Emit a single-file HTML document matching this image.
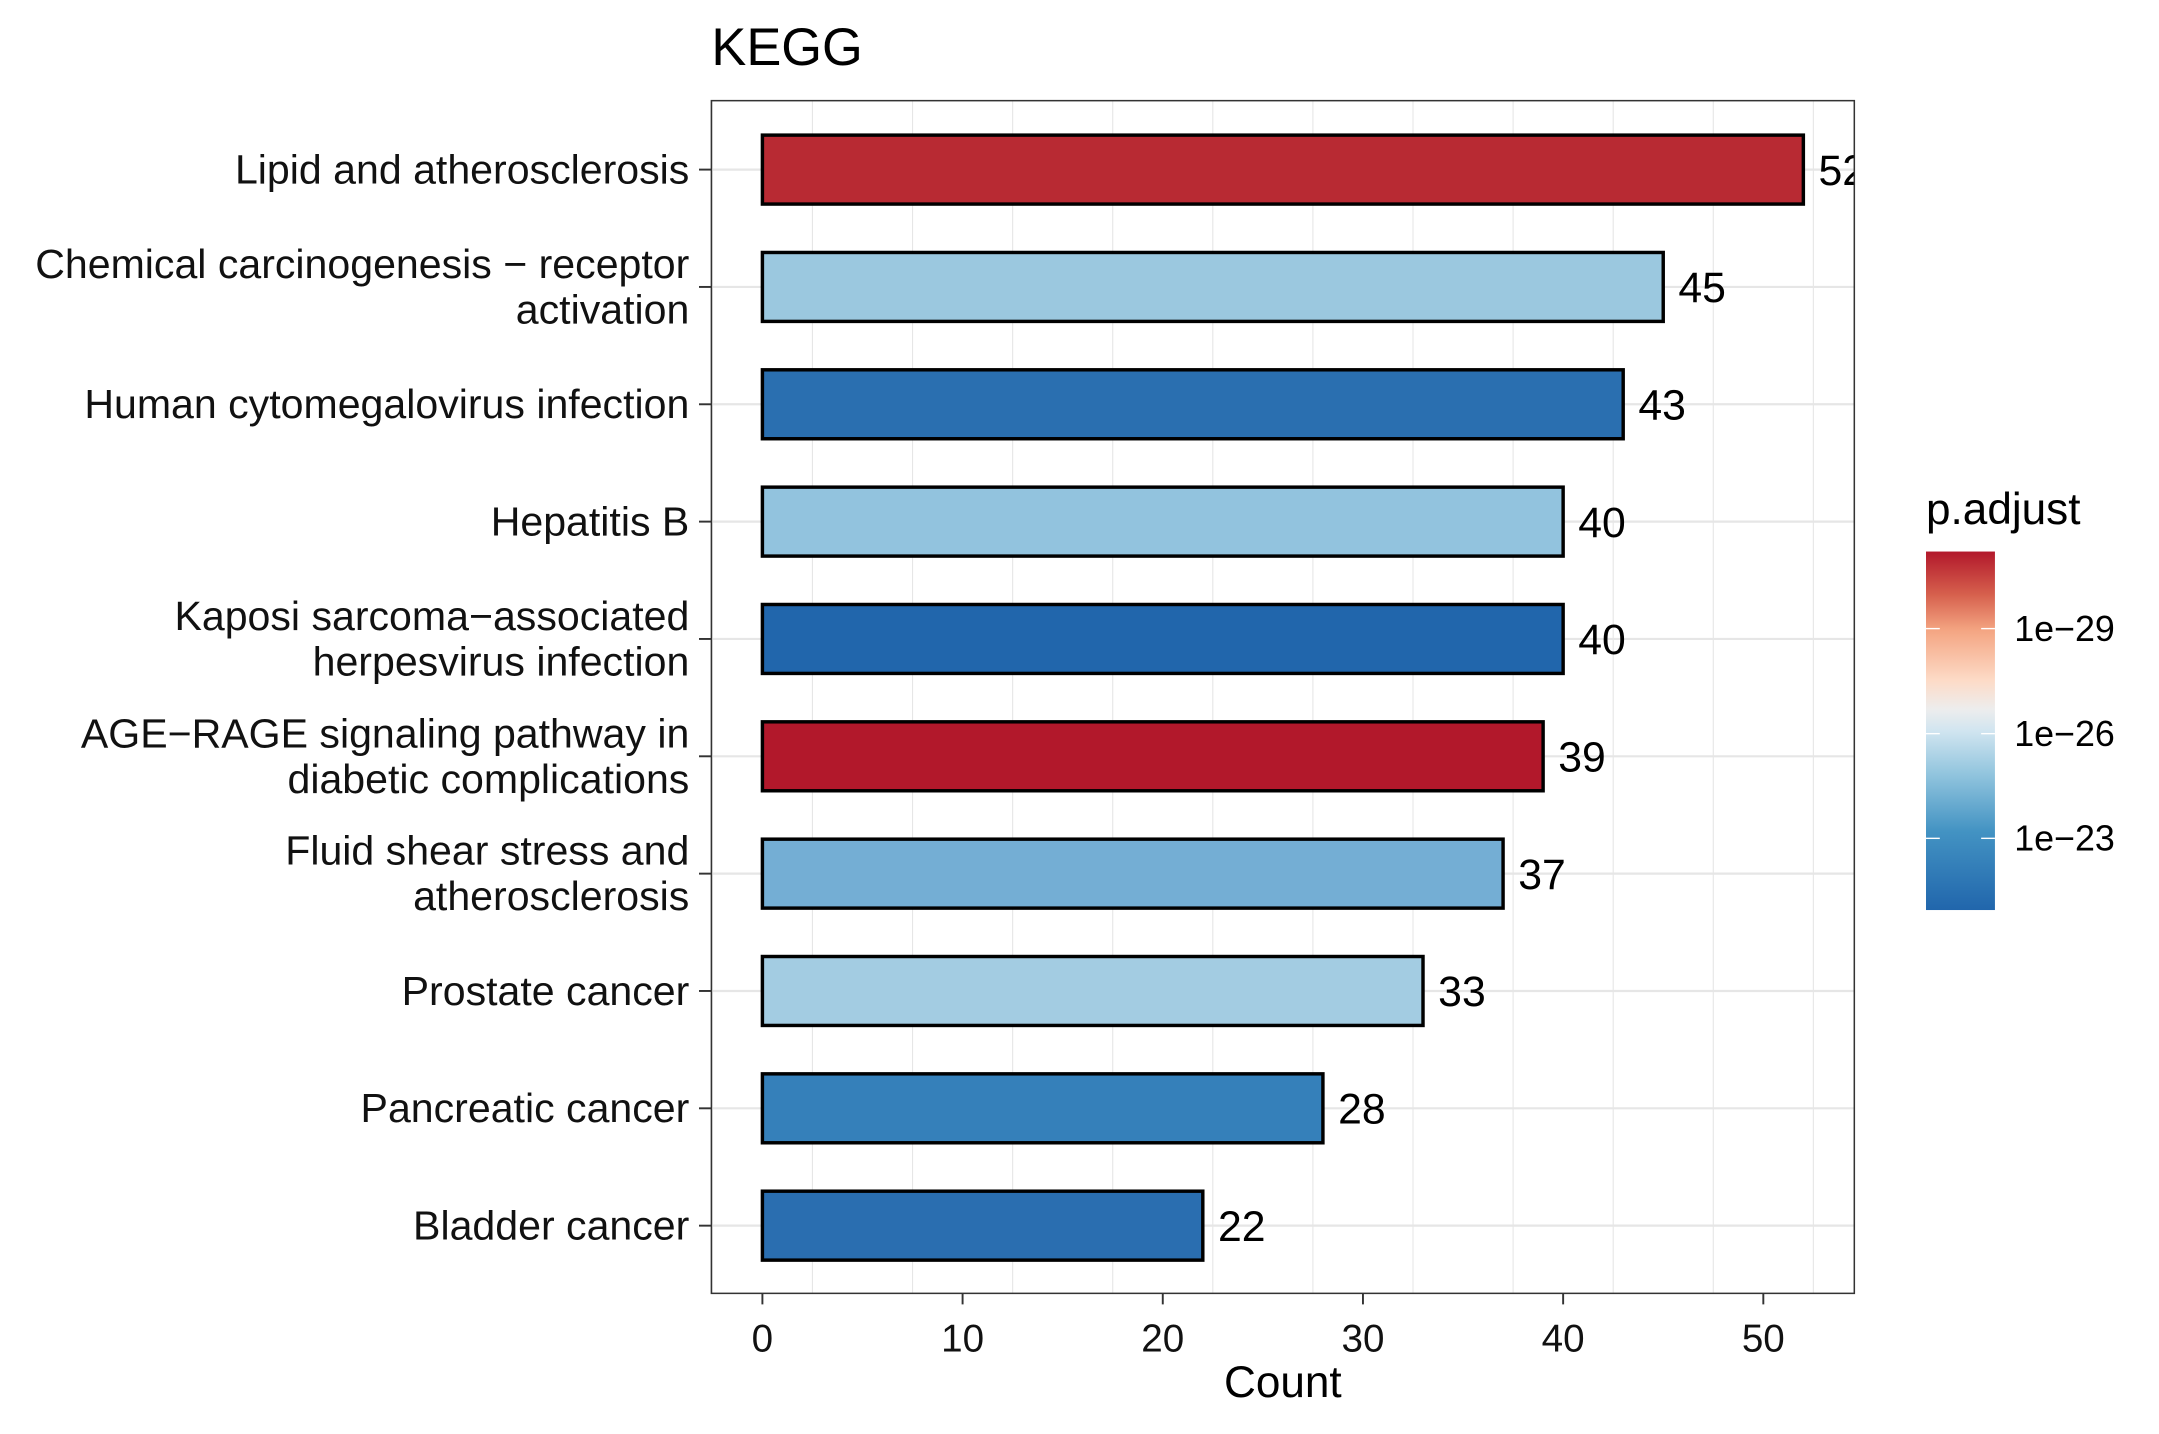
<!DOCTYPE html>
<html><head><meta charset="utf-8"><style>
html,body{margin:0;padding:0;background:#fff;}
svg{display:block;font-family:"Liberation Sans",Arial,sans-serif;}
</style></head><body>
<svg id="chart" width="2159" height="1434" viewBox="0 0 1566 1040" preserveAspectRatio="none" xmlns="http://www.w3.org/2000/svg">
<defs>
<linearGradient id="cbar" x1="0" y1="1" x2="0" y2="0">
<stop offset="0" stop-color="#2166AC"/>
<stop offset="0.22" stop-color="#4393C3"/>
<stop offset="0.38" stop-color="#92C5DE"/>
<stop offset="0.5" stop-color="#D1E5F0"/>
<stop offset="0.56" stop-color="#EDEDED"/>
<stop offset="0.64" stop-color="#FDDBC7"/>
<stop offset="0.78" stop-color="#F4A582"/>
<stop offset="0.88" stop-color="#D6604D"/>
<stop offset="1" stop-color="#B2182B"/>
</linearGradient>
<clipPath id="clipP"><rect x="0" y="0" width="1345" height="1040"/></clipPath>
</defs>
<text x="516" y="47" font-size="38">KEGG</text>
<rect x="516" y="73" width="829" height="865" fill="#fff"/>
<g id="grid"></g>
<g id="bars" clip-path="url(#clipP)"></g>
<rect x="516" y="73" width="829" height="865" fill="none" stroke="#333" stroke-width="1.1"/>
<g id="axes"></g>
<text x="930.5" y="1013" font-size="32" text-anchor="middle">Count</text>
<text x="1397" y="380" font-size="32">p.adjust</text>
<rect x="1397" y="400" width="50" height="260" fill="url(#cbar)"/>
<g id="legend"></g>
</svg>
<script>
const categories = ["Lipid and atherosclerosis","Chemical carcinogenesis \u2212 receptor|activation","Human cytomegalovirus infection","Hepatitis B","Kaposi sarcoma\u2212associated|herpesvirus infection","AGE\u2212RAGE signaling pathway in|diabetic complications","Fluid shear stress and|atherosclerosis","Prostate cancer","Pancreatic cancer","Bladder cancer"];
const counts = [52,45,43,40,40,39,37,33,28,22];
const barColors = ["#B82A33","#9BC8DF","#2A6FB0","#92C3DE","#2166AC","#B2182B","#74AED4","#A3CCE2","#3580BA","#2A6EB0"];
const xTicks = [0,10,20,30,40,50];
const legendTicks = ["1e\u221229","1e\u221226","1e\u221223"];
const legendTickPos = [0.215,0.508,0.8];

const NS="http://www.w3.org/2000/svg";
const X0=553, XU=(1279-553)/50;
const xs=v=>X0+v*XU;
const Y0=123, YS=85.1, BH=50;
const ys=i=>Y0+i*YS;
function mk(tag,attrs,parent){const e=document.createElementNS(NS,tag);for(const k in attrs)e.setAttribute(k,attrs[k]);parent.appendChild(e);return e;}
const grid=document.getElementById('grid'),bars=document.getElementById('bars'),axes=document.getElementById('axes'),legend=document.getElementById('legend');
for(let v=-2.5;v<=55;v+=5){const x=xs(v);if(x<516||x>1345)continue;
 const major=Math.abs(v%10)<1e-9;
 const l=mk('line',{x1:x,x2:x,y1:73,y2:938,stroke:'#e6e6e6','stroke-width':major?1.6:0.8},grid);
 
 }
categories.forEach((c,i)=>{const l=mk('line',{x1:516,x2:1345,y1:ys(i),y2:ys(i),stroke:'#e6e6e6','stroke-width':1.6},grid);
 
 });
counts.forEach((v,i)=>{
 const r=mk('rect',{x:xs(0),y:ys(i)-BH/2,width:xs(v)-xs(0),height:BH,fill:barColors[i],stroke:'#000','stroke-width':2.5},bars);
 
 
 const t=mk('text',{x:xs(v)+11,y:ys(i)+11,'font-size':31},bars);t.textContent=v;
 
 
 const lines=categories[i].split('|');
 const g=mk('text',{x:500,'font-size':29.8,'text-anchor':'end',fill:'#111'},axes);
 
 
 lines.forEach((s,k)=>{const ts=mk('tspan',{x:500,y:ys(i)+10+(k-(lines.length-1)/2)*33},g);ts.textContent=s;});
 const tk=mk('line',{x1:507,x2:516,y1:ys(i),y2:ys(i),stroke:'#333','stroke-width':1.4},axes);
 
 
});
xTicks.forEach(v=>{const tk=mk('line',{x1:xs(v),x2:xs(v),y1:938,y2:946,stroke:'#333','stroke-width':1.4},axes);
 
 
 const t=mk('text',{x:xs(v),y:980,'font-size':28,'text-anchor':'middle',fill:'#111'},axes);t.textContent=v;
 
 });
legendTicks.forEach((s,i)=>{const y=400+legendTickPos[i]*260;
 const a=mk('line',{x1:1397,x2:1407,y1:y,y2:y,stroke:'#fff','stroke-width':1},legend);
 
 
 const b=mk('line',{x1:1437,x2:1447,y1:y,y2:y,stroke:'#fff','stroke-width':1},legend);
 
 
 const t=mk('text',{x:1461,y:y+9,'font-size':26},legend);t.textContent=s;
 
 });
</script>
</body></html>
